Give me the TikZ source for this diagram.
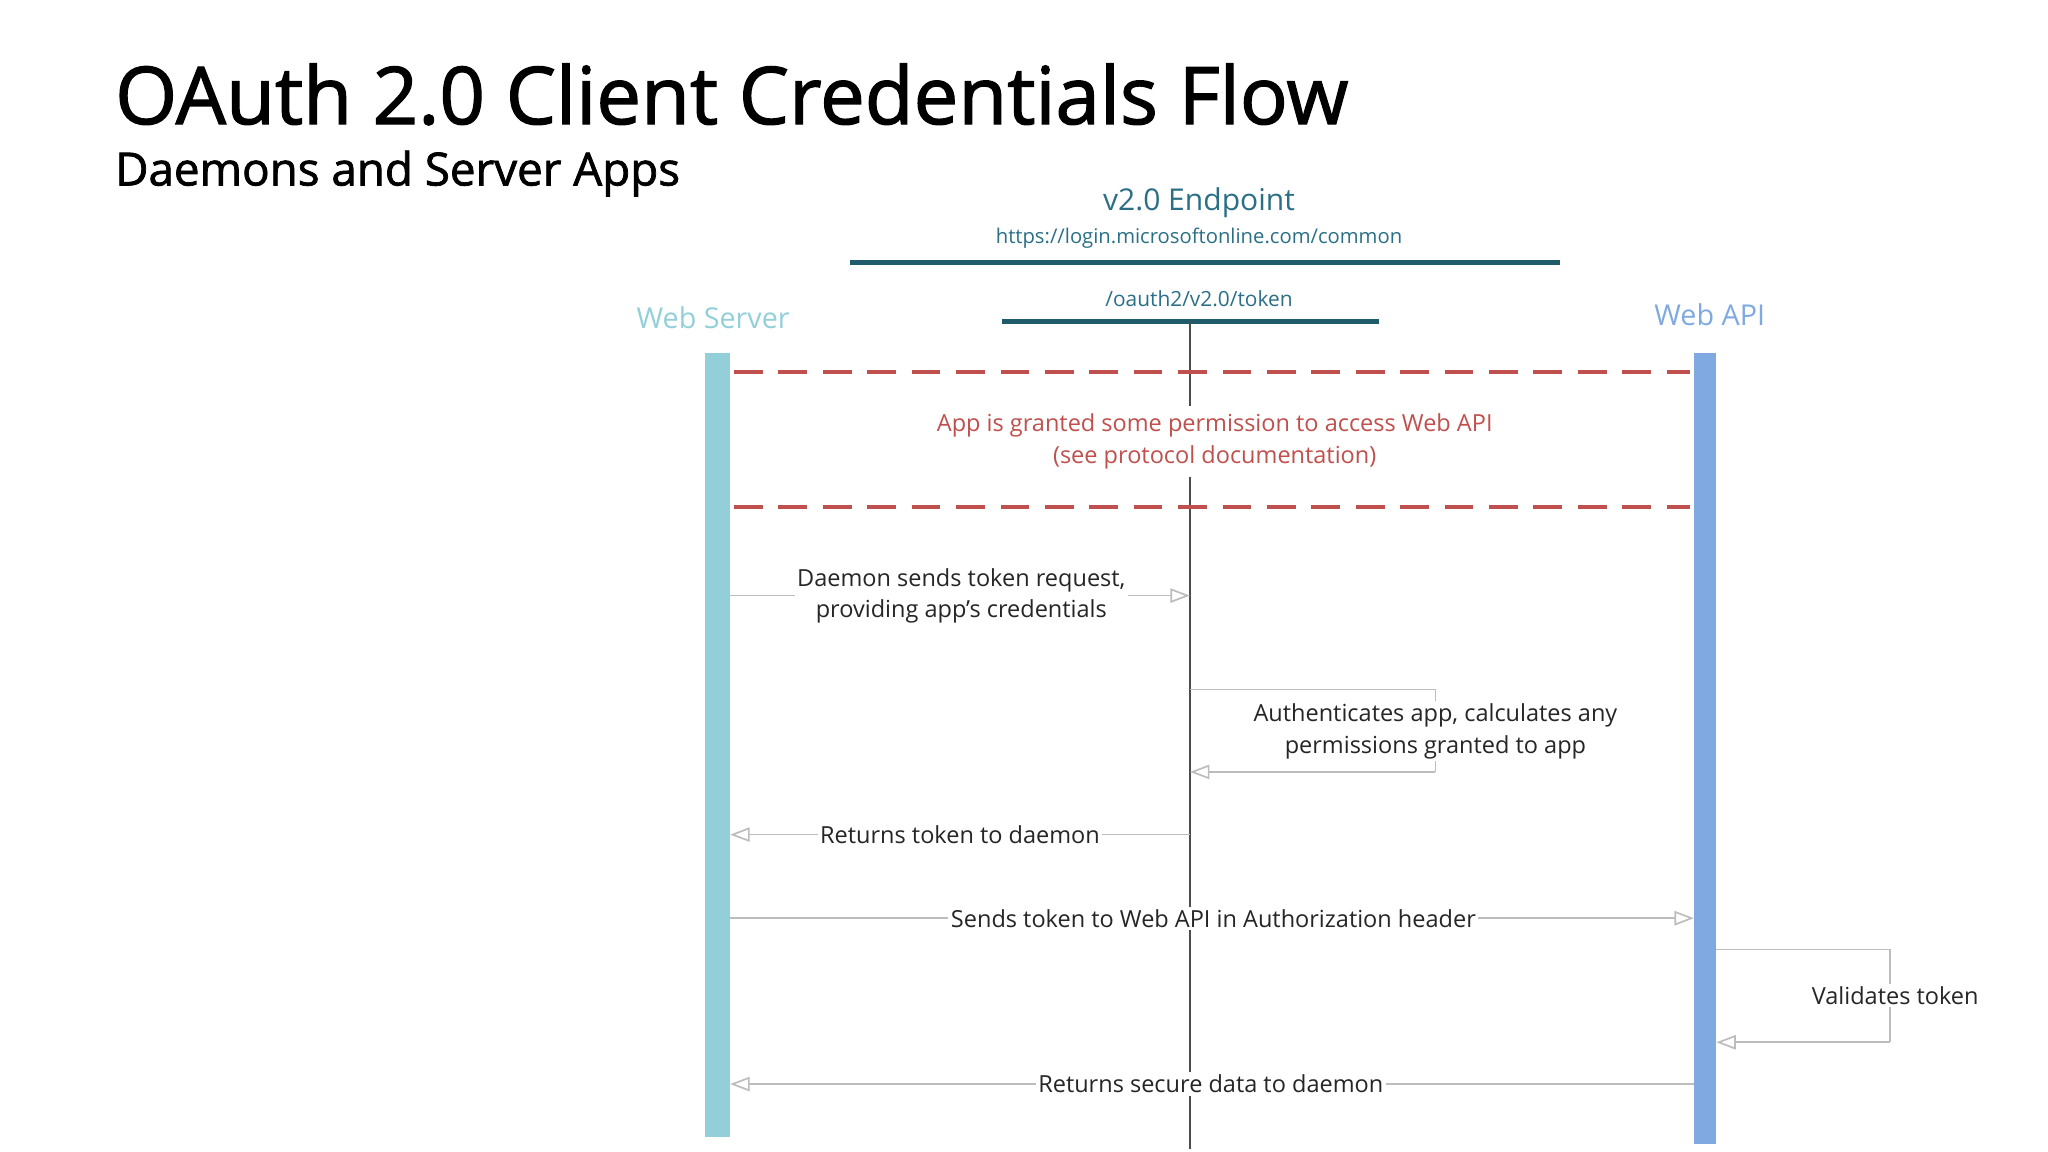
\documentclass[tikz,border=0pt]{standalone}
\usepackage{fontspec}
\setmainfont{Open Sans}
\newfontfamily\headfont[FakeBold=1.6]{Open Sans}
\usetikzlibrary{arrows.meta}
\definecolor{teal1}{HTML}{1F5C6B}
\definecolor{tealtxt}{HTML}{2A6F86}
\definecolor{wsc}{HTML}{92CFD9}
\definecolor{apic}{HTML}{7FA9E0}
\definecolor{redd}{HTML}{C0504D}
\definecolor{arrg}{HTML}{BDBDBD}
\tikzset{
  lbl/.style={font=\fontsize{18}{24}\selectfont, text=black!85, align=center, inner sep=2pt},
  lblw/.style={lbl, fill=white},
  msg/.style={draw=arrg, line width=1.3pt, -{Triangle[open,length=15pt,width=11pt,fill=white]}},
  seg/.style={draw=arrg, line width=1.3pt},
  reddash/.style={draw=redd, line width=2.8pt, dash pattern=on 22pt off 12pt},
  bar/.style={line width=4pt, draw=teal1}
}
\begin{document}
\begin{tikzpicture}[x=1pt,y=-1pt]
\useasboundingbox (0,0) rectangle (1568,882);
\node[anchor=base west, font=\headfont\fontsize{61}{66}\selectfont, inner sep=0] (title) at (88,95) {OAuth 2.0 Client Credentials Flow};
\node[anchor=base west, font=\headfont\fontsize{35}{40}\selectfont, inner sep=0] (sub) at (88,142) {Daemons and Server Apps};
\node[font=\fontsize{23}{26}\selectfont, text=tealtxt] (ep) at (918,155) {v2.0 Endpoint};
\node[font=\fontsize{15.5}{18}\selectfont, text=tealtxt] (url) at (918,182) {https://login.microsoftonline.com/common};
\coordinate (b1l) at (651,201); \coordinate (b1r) at (1194,201);
\draw[bar] (b1l) -- (b1r);
\node[font=\fontsize{16}{18}\selectfont, text=tealtxt] (tok) at (918,229) {/oauth2/v2.0/token};
\coordinate (b2l) at (767,246); \coordinate (b2r) at (1056,246);
\draw[bar] (b2l) -- (b2r);
\coordinate (vt) at (911,246); \coordinate (vb) at (911,880);
\draw[black!70, line width=1pt] (vt) -- (vb);
\node[font=\fontsize{22}{24}\selectfont, text=wsc] (wsl) at (546,243) {Web Server};
\node[font=\fontsize{22}{24}\selectfont, text=apic] (apil) at (1309,241) {Web API};
\node[fill=wsc, minimum width=19pt, minimum height=600pt, inner sep=0, anchor=north] (ws) at (549.5,270) {};
\node[fill=apic, minimum width=17pt, minimum height=606pt, inner sep=0, anchor=north] (api) at (1305.5,270) {};
\coordinate (d1l) at (562,285); \coordinate (d1r) at (1294,285);
\coordinate (d2l) at (562,388); \coordinate (d2r) at (1294,388);
\draw[reddash] (d1l) -- (d1r);
\draw[reddash] (d2l) -- (d2r);
\node[lbl, text=redd, fill=white, inner sep=6pt] (perm) at (930,338) {App is granted some permission to access Web API\\(see protocol documentation)};
\coordinate (m1a) at (559,456); \coordinate (m1b) at (911,456);
\draw[msg] (m1a) -- (m1b);
\node[lblw] (m1t) at (736,456) {Daemon sends token request,\\providing app’s credentials};
\coordinate (s1) at (911,528); \coordinate (s2) at (1099,528); \coordinate (s3) at (1099,591); \coordinate (s4) at (911,591);
\draw[seg] (s1) -- (s2) -- (s3);
\draw[msg] (s3) -- (s4);
\node[lblw] (s1t) at (1099,560) {Authenticates app, calculates any\\permissions granted to app};
\coordinate (m2a) at (911,639); \coordinate (m2b) at (559,639);
\draw[msg] (m2a) -- (m2b);
\node[lblw] (m2t) at (735,639) {Returns token to daemon};
\coordinate (m3a) at (559,703); \coordinate (m3b) at (1297,703);
\draw[msg] (m3a) -- (m3b);
\node[lblw] (m3t) at (929,703) {Sends token to Web API in Authorization header};
\coordinate (v1) at (1314,727); \coordinate (v2) at (1447,727); \coordinate (v3) at (1447,798); \coordinate (v4) at (1314,798);
\draw[seg] (v1) -- (v2) -- (v3);
\draw[msg] (v3) -- (v4);
\node[lblw] (vt1) at (1451,762) {Validates token};
\coordinate (m4a) at (1297,830); \coordinate (m4b) at (559,830);
\draw[msg] (m4a) -- (m4b);
\node[lblw] (m4t) at (927,830) {Returns secure data to daemon};
\end{tikzpicture}
\end{document}
